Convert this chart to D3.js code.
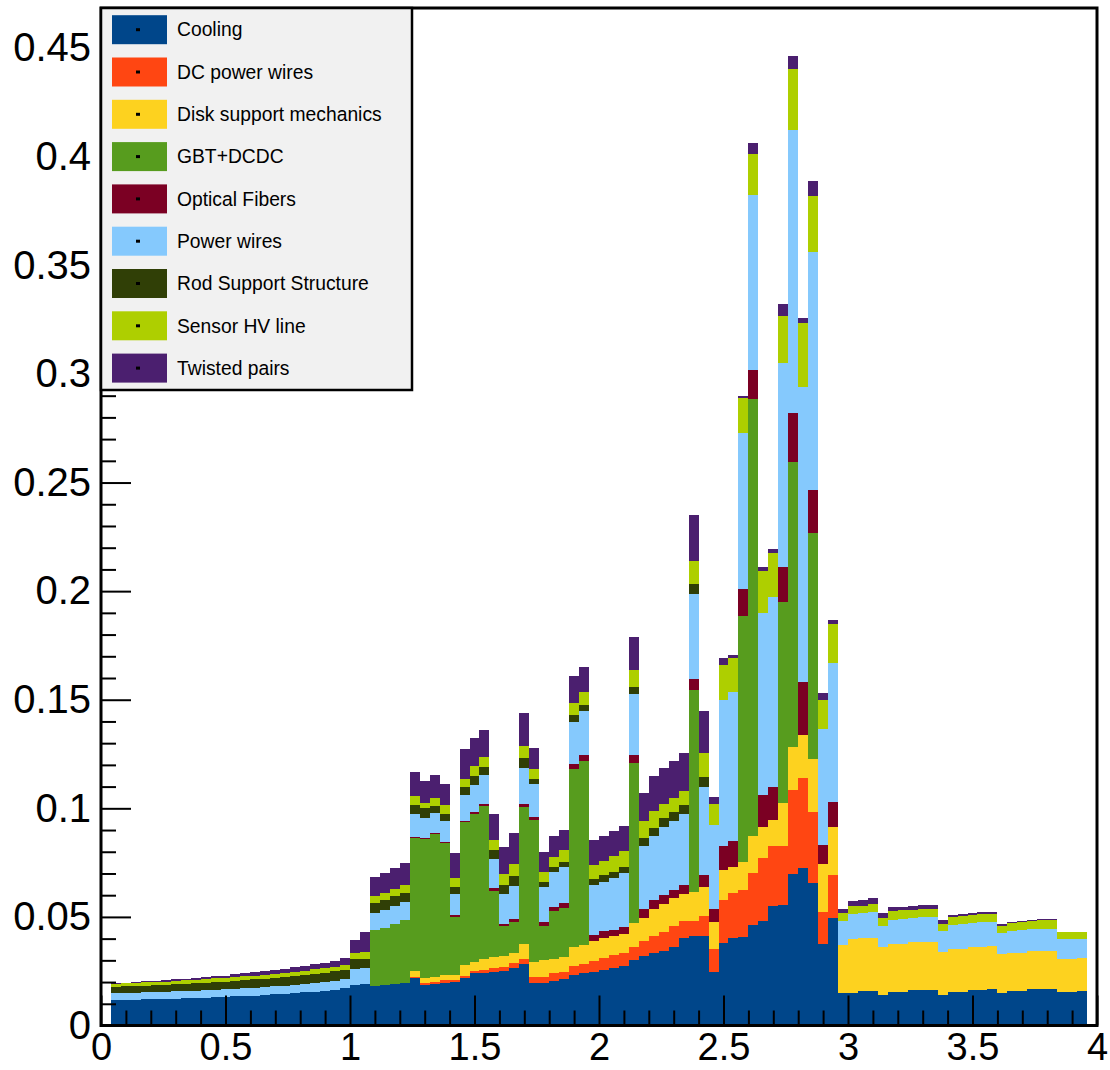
<!DOCTYPE html>
<html>
<head>
<meta charset="utf-8">
<script src="https://cdn.jsdelivr.net/npm/d3@7"></script>
<style>
  body { margin: 0; background: #fff; }
  svg { display: block; }
  text { font-family: "Liberation Sans", Arial, Helvetica, sans-serif; fill: #000; }
</style>
</head>
<body>
<svg id="chart" width="1110" height="1070"></svg>
<script>
// Histogram binning along x: 98 bins of width 0.04 starting at 0.04
const binWidth = 0.04;
const firstEdge = 0.04;

// Stacked contributions per bin (bottom to top)
const cooling = [
  0.0117,0.0118,0.0119,0.0120,0.0121,0.0122,0.0124,0.0125,0.0127,0.0128,0.0130,0.0132,0.0134,0.0136,0.0138,0.0140,0.0143,0.0146,0.0149,0.0152,0.0156,0.0160,0.0165,0.0171,
  0.0186,0.0190,0.0182,0.0186,0.0191,0.0194,0.0217,0.0186,0.0191,0.0197,0.0202,0.0217,0.0240,0.0240,0.0248,0.0252,0.0263,0.0283,0.0194,0.0197,0.0206,0.0213,0.0233,0.0240,0.0247,
  0.0255,0.0263,0.0275,0.0302,0.0318,0.0333,0.0344,0.0360,0.0403,0.0411,0.0411,0.0246,0.0380,0.0401,0.0407,0.0465,0.0483,0.0552,0.0555,0.0699,0.0726,0.0654,0.0375,0.0497,0.0151,
  0.0151,0.0157,0.0161,0.0139,0.0154,0.0155,0.0162,0.0162,0.0163,0.0142,0.0154,0.0155,0.0162,0.0165,0.0166,0.0151,0.0159,0.0160,0.0167,0.0167,0.0168,0.0156,0.0156,0.0157
];
const dcPowerWires = [
  0,0,0,0,0,0,0,0,0,0,0,0,0,0,0,0,0,0,0,0,0,0,0,0,0,0,0,0,0,0,
  0.0005,0.0008,0.0011,0.0012,0.0008,0.0011,0.0012,0.0015,0.0015,0.0018,0.0023,0.0021,0.0028,0.0028,0.0034,0.0035,0.0041,0.0045,0.0052,
  0.0055,0.0062,0.0058,0.0058,0.0070,0.0078,0.0087,0.0098,0.0079,0.0071,0.0094,0.0104,0.0200,0.0211,0.0215,0.0237,0.0290,0.0274,0.0270,0.0387,0.0414,0.0328,0.0148,0.0197,0,
  0,0,0,0,0,0,0,0,0,0,0,0,0,0,0,0,0,0,0,0,0,0,0,0
];
const diskSupport = [
  0,0,0,0,0,0,0,0,0,0,0,0,0,0,0,0,0,0,0,0,0,0,0,0,0,0,0,0,0,0,
  0.0028,0.0023,0.0023,0.0023,0.0023,0.0051,0.0041,0.0049,0.0054,0.0049,0.0046,0.0071,0.0072,0.0077,0.0064,0.0066,0.0089,0.0085,0.0088,
  0.0093,0.0086,0.0089,0.0114,0.0106,0.0125,0.0129,0.0130,0.0122,0.0132,0.0133,0.0128,0.0135,0.0118,0.0129,0.0172,0.0140,0.0119,0.0198,0.0198,0.0198,0.0243,0.0221,0.0218,0.0219,
  0.0247,0.0244,0.0243,0.0221,0.0221,0.0222,0.0221,0.0222,0.0222,0.0197,0.0198,0.0199,0.0198,0.0198,0.0199,0.0178,0.0176,0.0176,0.0176,0.0177,0.0176,0.0152,0.0152,0.0152
];
const gbtDcdc = [
  0,0,0,0,0,0,0,0,0,0,0,0,0,0,0,0,0,0,0,0,0,0,0,0,0,0,
  0.0258,0.0265,0.0276,0.0292,0.0615,0.0641,0.0655,0.0609,0.0268,0.0658,0.0683,0.0707,0.0304,0.0138,0.0146,0.0632,0.0652,0.0158,0.0224,0.0229,0.0818,0.0849,0,
  0,0,0,0.0734,0,0,0,0,0,0.0933,0,0,0,0,0.1133,0.2009,0,0,0.0927,0.1310,0,0.1044,0,0,0,
  0,0,0,0,0,0,0,0,0,0,0,0,0,0,0,0,0,0,0,0,0,0,0,0
];
const opticalFibers = [
  0,0,0,0,0,0,0,0,0,0,0,0,0,0,0,0,0,0,0,0,0,0,0,0,0,0,0,0,0,0,
  0.0005,0.0004,0.0005,0.0005,0.0008,0.0006,0.0008,0.0011,0.0011,0.0009,0.0012,0.0011,0.0015,0.0018,0.0018,0.0020,0.0023,0.0028,0.0030,
  0.0032,0.0031,0.0031,0.0036,0.0042,0.0040,0.0039,0.0037,0.0041,0.0049,0.0054,0.0059,0.0111,0.0118,0.0124,0.0135,0.0150,0.0154,0.0162,0.0225,0.0243,0.0195,0.0087,0.0115,0,
  0,0,0,0,0,0,0,0,0,0,0,0,0,0,0,0,0,0,0,0,0,0,0,0
];
const powerWires = [
  0.0031,0.0031,0.0031,0.0032,0.0032,0.0032,0.0033,0.0033,0.0033,0.0034,0.0034,0.0034,0.0035,0.0035,0.0036,0.0036,0.0037,0.0037,0.0038,0.0038,0.0039,0.0040,0.0040,0.0041,
  0.0072,0.0077,0.0080,0.0083,0.0083,0.0084,0.0103,0.0092,0.0092,0.0095,0.0095,0.0118,0.0123,0.0130,0.0134,0.0141,0.0152,0.0169,0.0153,0.0158,0.0161,0.0166,0.0195,0.0203,0.0228,
  0.0226,0.0235,0.0247,0.0281,0.0290,0.0296,0.0317,0.0317,0.0329,0.0389,0.0407,0.0386,0.0671,0.0687,0.0720,0.0806,0.0838,0.0873,0.0937,0.1304,0.1360,0.1099,0.0533,0.0641,0.0112,
  0.0114,0.0116,0.0118,0.0100,0.0111,0.0112,0.0114,0.0115,0.0115,0.0096,0.0111,0.0112,0.0111,0.0112,0.0112,0.0095,0.0101,0.0102,0.0101,0.0101,0.0101,0.0088,0.0089,0.0088
];
const rodSupport = [
  0.0031,0.0031,0.0032,0.0032,0.0033,0.0033,0.0034,0.0034,0.0035,0.0035,0.0036,0.0036,0.0037,0.0038,0.0038,0.0039,0.0040,0.0040,0.0041,0.0042,0.0042,0.0043,0.0044,0.0045,
  0.0046,0.0041,0.0043,0.0043,0.0046,0.0041,0.0043,0.0049,0.0034,0.0035,0.0035,0.0038,0.0043,0.0038,0.0043,0.0038,0.0046,0.0043,0.0023,0.0026,0.0023,0.0026,0.0031,0.0028,0.0030,
  0.0031,0.0031,0.0032,0.0035,0.0039,0.0039,0.0038,0.0043,0.0039,0.0047,0.0047,0,0,0,0,0,0,0,0,0,0,0,0,0,0,
  0,0,0,0,0,0,0,0,0,0,0,0,0,0,0,0,0,0,0,0,0,0,0,0
];
const sensorHV = [
  0.0014,0.0014,0.0014,0.0015,0.0015,0.0015,0.0015,0.0016,0.0016,0.0016,0.0017,0.0017,0.0017,0.0018,0.0018,0.0018,0.0019,0.0019,0.0020,0.0020,0.0021,0.0021,0.0022,0.0022,
  0.0028,0.0032,0.0031,0.0031,0.0031,0.0035,0.0041,0.0020,0.0035,0.0038,0.0038,0.0038,0.0045,0.0046,0.0046,0.0054,0.0054,0.0058,0.0046,0.0046,0.0046,0.0051,0.0054,0.0057,0.0065,
  0.0066,0.0071,0.0070,0.0078,0.0077,0.0078,0.0067,0.0062,0.0067,0.0106,0.0109,0.0097,0.0161,0.0155,0.0161,0.0188,0.0193,0.0202,0.0218,0.0279,0.0295,0.0257,0.0133,0.0180,0.0035,
  0.0036,0.0035,0.0036,0.0034,0.0042,0.0041,0.0035,0.0036,0.0036,0.0031,0.0037,0.0037,0.0038,0.0037,0.0037,0.0034,0.0038,0.0038,0.0039,0.0039,0.0039,0.0033,0.0033,0.0033
];
const twistedPairs = [
  0.0003,0.0003,0.0004,0.0004,0.0005,0.0006,0.0006,0.0007,0.0008,0.0009,0.0010,0.0011,0.0012,0.0013,0.0015,0.0016,0.0018,0.0019,0.0021,0.0022,0.0024,0.0026,0.0028,0.0031,
  0.0061,0.0089,0.0092,0.0092,0.0097,0.0103,0.0109,0.0103,0.0107,0.0097,0.0115,0.0138,0.0127,0.0123,0.0120,0.0123,0.0143,0.0153,0.0095,0.0089,0.0097,0.0095,0.0127,0.0115,0.0112,
  0.0114,0.0117,0.0117,0.0152,0.0130,0.0162,0.0164,0.0172,0.0175,0.0211,0.0193,0.0032,0.0032,0.0017,0.0011,0.0052,0.0017,0.0021,0.0057,0.0062,0.0020,0.0069,0.0032,0.0018,0.0020,
  0.0026,0.0027,0.0028,0.0023,0.0017,0.0017,0.0020,0.0020,0.0020,0.0020,0.0009,0.0009,0.0008,0.0010,0.0010,0.0008,0.0004,0.0004,0.0005,0.0005,0.0005,0.0002,0.0002,0.0002
];

const seriesNames = ["Cooling", "DC power wires", "Disk support mechanics", "GBT+DCDC",
  "Optical Fibers", "Power wires", "Rod Support Structure", "Sensor HV line", "Twisted pairs"];
const seriesValues = [cooling, dcPowerWires, diskSupport, gbtDcdc, opticalFibers,
  powerWires, rodSupport, sensorHV, twistedPairs];
const seriesColors = ["#00468a", "#ff4612", "#fdd21f", "#579c1e", "#7b0023",
  "#85c9fd", "#303f06", "#aecf00", "#4b1f6f"];

const xTicks = [0, 0.5, 1, 1.5, 2, 2.5, 3, 3.5, 4];
const yTicks = [0, 0.05, 0.1, 0.15, 0.2, 0.25, 0.3, 0.35, 0.4, 0.45];

const svg = d3.select("#chart");
const x = d3.scaleLinear().domain([0, 4]).range([101, 1097]);
const y = d3.scaleLinear().domain([0, 0.4685]).range([1025.5, 8]);

// One row per bin, with each component as a column
const rows = cooling.map((_, i) => {
  const r = { lo: firstEdge + i * binWidth };
  seriesNames.forEach((n, k) => { r[n] = seriesValues[k][i]; });
  return r;
});
const layers = d3.stack().keys(seriesNames)(rows);

svg.append("g").attr("shape-rendering", "crispEdges")
  .selectAll("g").data(layers).join("g")
  .attr("fill", (d, k) => seriesColors[k])
  .selectAll("rect").data(d => d.filter(p => p[1] - p[0] > 0)).join("rect")
  .attr("x", d => x(d.data.lo))
  .attr("width", d => x(d.data.lo + binWidth) - x(d.data.lo))
  .attr("y", d => y(d[1]))
  .attr("height", d => y(d[0]) - y(d[1]));

// Axes: ticks drawn inward, ROOT style
const xMinor = d3.range(0, 41).map(k => k / 10).filter(v => !xTicks.includes(v));
const yMinor = d3.range(0, 47).map(k => k / 100).filter(v => !yTicks.some(t => Math.abs(t - v) < 1e-9));

function styleAxis(size) {
  return g => {
    g.select(".domain").remove();
    g.selectAll(".tick line").attr("stroke", "#000").attr("stroke-width", 2);
    g.selectAll(".tick text").attr("font-size", size)
      .attr("font-family", '"Liberation Sans", Arial, Helvetica, sans-serif').attr("fill", "#000");
  };
}

svg.append("g").attr("transform", `translate(0,${y(0)})`)
  .call(d3.axisBottom(x).tickValues(xMinor).tickSize(-15).tickFormat(""))
  .call(styleAxis(38));
svg.append("g").attr("transform", `translate(0,${y(0)})`)
  .call(d3.axisBottom(x).tickValues(xTicks).tickSize(-30).tickPadding(8)
    .tickFormat(d3.format(".1~f")))
  .call(styleAxis(38));

svg.append("g").attr("transform", `translate(${x(0)},0)`)
  .call(d3.axisLeft(y).tickValues(yMinor).tickSize(-15).tickFormat(""))
  .call(styleAxis(40));
svg.append("g").attr("transform", `translate(${x(0)},0)`)
  .call(d3.axisLeft(y).tickValues(yTicks).tickSize(-30).tickPadding(10)
    .tickFormat(d3.format(".2~f")))
  .call(styleAxis(40));

// Frame
svg.append("rect")
  .attr("x", x(0)).attr("y", y.range()[1])
  .attr("width", x(4) - x(0)).attr("height", y(0) - y.range()[1])
  .attr("fill", "none").attr("stroke", "#000").attr("stroke-width", 3);

// Legend
const legend = svg.append("g");
legend.append("rect")
  .attr("x", 101).attr("y", 8).attr("width", 311).attr("height", 382)
  .attr("fill", "#f1f1f1").attr("stroke", "#000").attr("stroke-width", 2.5);
const rowStep = 42.3, rowTop = 29.7;
seriesNames.forEach((name, k) => {
  const cy = rowTop + k * rowStep;
  legend.append("rect").attr("x", 112).attr("y", cy - 14.5)
    .attr("width", 55).attr("height", 29).attr("fill", seriesColors[k]);
  legend.append("rect").attr("x", 136).attr("y", cy - 1.5)
    .attr("width", 4).attr("height", 3).attr("fill", "#000");
  legend.append("text").attr("x", 177).attr("y", cy).attr("dy", "0.35em")
    .attr("font-size", 19.3).text(name);
});
</script>
</body>
</html>
